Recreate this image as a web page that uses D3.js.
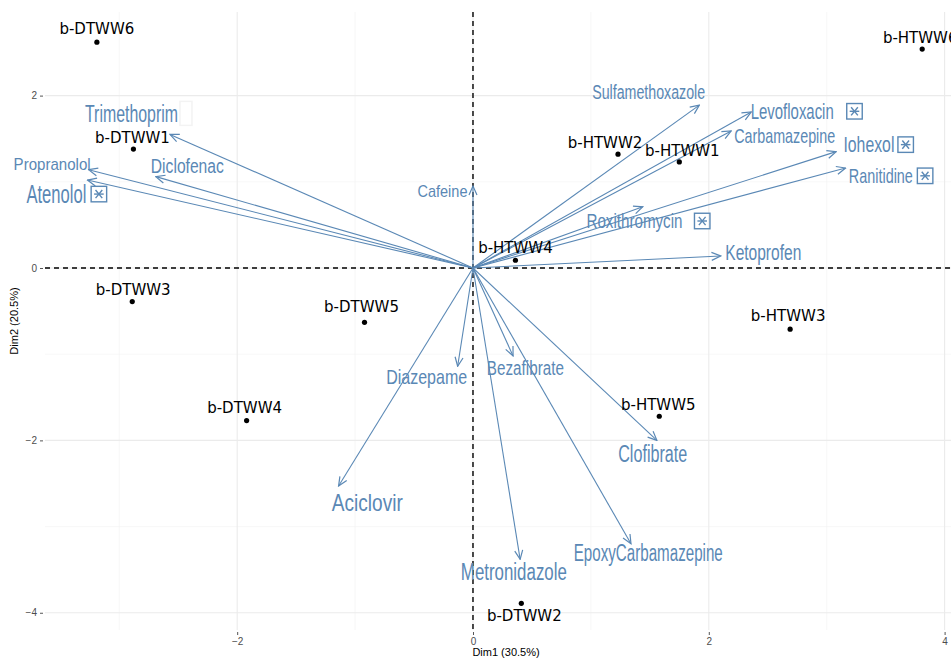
<!DOCTYPE html>
<html>
<head>
<meta charset="utf-8">
<script src="https://cdn.jsdelivr.net/npm/d3@7"></script>
<style>
	body { margin: 0; background: #fff; }
	svg { display: block; }
</style>
</head>
<body>
<svg id="biplot" width="951" height="659"></svg>
<script>
// individuals (Dim1, Dim2)
const indNames = ['b-DTWW6', 'b-HTWW6', 'b-DTWW1', 'b-HTWW2', 'b-HTWW1', 'b-HTWW4',
	'b-DTWW3', 'b-DTWW5', 'b-HTWW3', 'b-DTWW4', 'b-HTWW5', 'b-DTWW2'];
const indDim1 = [-3.19, 3.81, -2.88, 1.23, 1.75, 0.36, -2.89, -0.92, 2.69, -1.92, 1.58, 0.41];
const indDim2 = [2.62, 2.54, 1.38, 1.32, 1.23, 0.09, -0.39, -0.63, -0.71, -1.77, -1.72, -3.89];

// variables (arrow tips)
const varNames = ['Trimethoprim', 'Propranolol', 'Atenolol', 'Diclofenac', 'Cafeine',
	'Sulfamethoxazole', 'Levofloxacin', 'Carbamazepine', 'Iohexol', 'Ranitidine',
	'Roxithromycin', 'Ketoprofen', 'Diazepame', 'Bezafibrate', 'Clofibrate',
	'Aciclovir', 'EpoxyCarbamazepine', 'Metronidazole'];
const varDim1 = [-2.57, -3.26, -3.27, -2.69, 0.0, 1.92, 2.36, 2.19, 3.08, 3.16,
	1.44, 2.10, -0.13, 0.34, 1.56, -1.14, 1.34, 0.40];
const varDim2 = [1.55, 1.14, 1.02, 1.06, 0.95, 1.89, 1.81, 1.59, 1.35, 1.16,
	0.71, 0.14, -1.14, -1.02, -2.00, -2.53, -3.20, -3.38];

const flagged = ['Atenolol', 'Levofloxacin', 'Iohexol', 'Ranitidine', 'Roxithromycin'];

const xTicks = [-2, 0, 2, 4];
const yTicks = [-4, -2, 0, 2];
const xTitle = 'Dim1 (30.5%)';
const yTitle = 'Dim2 (20.5%)';

// label layout: pixel nudge from the mark; for variables also font size and drawn width
const indNudge = {
	'b-DTWW6': [0, -13], 'b-HTWW6': [-2, -11], 'b-DTWW1': [-1, -11], 'b-HTWW2': [-13, -11],
	'b-HTWW1': [3, -11], 'b-HTWW4': [0, -12], 'b-DTWW3': [1, -12], 'b-DTWW5': [-3, -15],
	'b-HTWW3': [-2, -13], 'b-DTWW4': [-2, -13], 'b-HTWW5': [-1, -11], 'b-DTWW2': [3, 13]
};
const varLayout = {
	Trimethoprim: [-38.5, -21, 23, 93], Propranolol: [-36.5, -5.5, 17, 77],
	Atenolol: [-31, 14, 25, 60], Diclofenac: [31.5, -11, 19.5, 73],
	Cafeine: [-30.5, 5, 17, 50], Sulfamethoxazole: [-50.7, -12.8, 20, 113],
	Levofloxacin: [41, -0.7, 22, 83], Carbamazepine: [53.5, 4.8, 21, 101],
	Iohexol: [32.8, -7, 21.5, 51], Ranitidine: [35.3, 7.8, 21, 64],
	Roxithromycin: [-8.3, 14.2, 20, 96], Ketoprofen: [42.7, -3.5, 22, 76],
	Diazepame: [-31, 9.8, 21, 81], Bezafibrate: [12.3, 11.8, 20, 77],
	Clofibrate: [-4.2, 13.3, 23, 69], Aciclovir: [28.7, 16, 24, 71],
	EpoxyCarbamazepine: [17.3, 9.3, 23, 149], Metronidazole: [-6.3, 12.7, 23, 106]
};
const boxGap = {Atenolol: 4.7, Levofloxacin: 13, Iohexol: 3.5, Ranitidine: 4.5, Roxithromycin: 12};

const width = 951;
const height = 659;
const blue = '#5a88b5';
const sans = '"Liberation Sans", Arial, sans-serif';

const x = d3.scaleLinear().domain([-3.63, 4.19]).range([45, 967]);
const y = d3.scaleLinear().domain([-4.2, 2.97]).range([630, 12]);

const svg = d3.select('#biplot');

svg.append('defs').append('marker')
	.attr('id', 'head')
	.attr('markerUnits', 'userSpaceOnUse')
	.attr('viewBox', '-10 -5 11 10')
	.attr('refX', 0).attr('refY', 0)
	.attr('markerWidth', 11).attr('markerHeight', 10)
	.attr('orient', 'auto')
	.append('path')
	.attr('d', 'M-9,-4L0,0L-9,4')
	.attr('fill', 'none')
	.attr('stroke', blue)
	.attr('stroke-width', 1.2);

// grid
const grid = svg.append('g');
const [x0, x1] = x.range();
const [y0, y1] = y.range();
const minorX = [-3, -1, 1, 3];
const minorY = [-3, -1, 1];
grid.selectAll('.mx').data(minorX).enter().append('line')
	.attr('x1', d => x(d)).attr('x2', d => x(d)).attr('y1', y1).attr('y2', y0)
	.attr('stroke', '#f2f2f2').attr('stroke-width', 0.6);
grid.selectAll('.my').data(minorY).enter().append('line')
	.attr('y1', d => y(d)).attr('y2', d => y(d)).attr('x1', x0).attr('x2', x1)
	.attr('stroke', '#f2f2f2').attr('stroke-width', 0.6);
grid.selectAll('.gx').data(xTicks).enter().append('line')
	.attr('x1', d => x(d)).attr('x2', d => x(d)).attr('y1', y1).attr('y2', y0)
	.attr('stroke', '#ebebeb').attr('stroke-width', 1.1);
grid.selectAll('.gy').data(yTicks).enter().append('line')
	.attr('y1', d => y(d)).attr('y2', d => y(d)).attr('x1', x0).attr('x2', x1)
	.attr('stroke', '#ebebeb').attr('stroke-width', 1.1);

// axes
const fmt = d => d < 0 ? '\u2212' + Math.abs(d) : d;
const xAxis = svg.append('g')
	.attr('transform', `translate(0,${y0 + 2})`)
	.call(d3.axisBottom(x).tickValues(xTicks).tickSize(3).tickFormat(fmt));
const yAxis = svg.append('g')
	.attr('transform', `translate(${x0 - 2},0)`)
	.call(d3.axisLeft(y).tickValues(yTicks).tickSize(3).tickFormat(fmt));
[xAxis, yAxis].forEach(a => {
	a.select('.domain').remove();
	a.selectAll('.tick line').attr('stroke', '#555');
	a.selectAll('.tick text').attr('fill', '#4d4d4d')
		.style('font-family', sans).style('font-size', '10px');
});

svg.append('text')
	.attr('x', (x0 + x1) / 2).attr('y', 656)
	.attr('text-anchor', 'middle')
	.style('font-family', sans).style('font-size', '11px')
	.text(xTitle);
svg.append('text')
	.attr('transform', `translate(18,${(y0 + y1) / 2}) rotate(-90)`)
	.attr('text-anchor', 'middle')
	.style('font-family', sans).style('font-size', '11px')
	.text(yTitle);

// reference lines
svg.append('line')
	.attr('x1', x0).attr('x2', x1).attr('y1', y(0)).attr('y2', y(0))
	.attr('stroke', '#000').attr('stroke-width', 1.4).attr('stroke-dasharray', '5,4');
svg.append('line')
	.attr('x1', x(0)).attr('x2', x(0)).attr('y1', y1).attr('y2', y0)
	.attr('stroke', '#000').attr('stroke-width', 1.4).attr('stroke-dasharray', '5,4');

// variables
const vars = varNames.map((name, i) => ({name, d1: varDim1[i], d2: varDim2[i]}));

svg.append('g').selectAll('line').data(vars).enter().append('line')
	.attr('x1', x(0)).attr('y1', y(0))
	.attr('x2', d => x(d.d1)).attr('y2', d => y(d.d2))
	.attr('stroke', blue).attr('stroke-width', 1.1)
	.attr('marker-end', 'url(#head)');

const labCx = d => x(d.d1) + varLayout[d.name][0];
const labCy = d => y(d.d2) + varLayout[d.name][1];

svg.append('g').selectAll('text').data(vars).enter().append('text')
	.attr('x', d => labCx(d) - varLayout[d.name][3] / 2)
	.attr('y', d => labCy(d) + 0.358 * varLayout[d.name][2])
	.attr('textLength', d => varLayout[d.name][3])
	.attr('lengthAdjust', 'spacingAndGlyphs')
	.attr('fill', blue)
	.style('font-family', sans)
	.style('font-size', d => varLayout[d.name][2] + 'px')
	.text(d => d.name);

// flag boxes after some labels
const s = 15.5;
const boxes = svg.append('g').selectAll('g').data(vars.filter(d => flagged.includes(d.name))).enter().append('g')
	.attr('transform', d => `translate(${labCx(d) + varLayout[d.name][3] / 2 + boxGap[d.name]},${labCy(d) - s / 2})`)
	.attr('stroke', blue).attr('fill', 'none').attr('stroke-width', 1.4);
boxes.append('rect').attr('width', s).attr('height', s);
const r = 4.8;
boxes.append('line').attr('x1', s / 2 - r).attr('x2', s / 2 + r).attr('y1', s / 2).attr('y2', s / 2);
boxes.append('line').attr('x1', s / 2 - r * 0.7).attr('x2', s / 2 + r * 0.7).attr('y1', s / 2 - r * 0.85).attr('y2', s / 2 + r * 0.85);
boxes.append('line').attr('x1', s / 2 - r * 0.7).attr('x2', s / 2 + r * 0.7).attr('y1', s / 2 + r * 0.85).attr('y2', s / 2 - r * 0.85);

// faint ghost box next to Trimethoprim
const trim = vars.find(d => d.name === 'Trimethoprim');
svg.append('rect')
	.attr('x', labCx(trim) + varLayout.Trimethoprim[3] / 2 + 2)
	.attr('y', labCy(trim) - 12)
	.attr('width', 12).attr('height', 24)
	.attr('fill', 'none').attr('stroke', '#f3f3f3').attr('stroke-width', 1.5);

// individuals
const inds = indNames.map((name, i) => ({name, d1: indDim1[i], d2: indDim2[i]}));

svg.append('g').selectAll('circle').data(inds).enter().append('circle')
	.attr('cx', d => x(d.d1)).attr('cy', d => y(d.d2))
	.attr('r', 2.6).attr('fill', '#000');

svg.append('g').selectAll('text').data(inds).enter().append('text')
	.attr('x', d => x(d.d1) + indNudge[d.name][0])
	.attr('y', d => y(d.d2) + indNudge[d.name][1])
	.attr('text-anchor', 'middle')
	.attr('dominant-baseline', 'central')
	.attr('fill', '#000')
	.style('font-family', '"DejaVu Sans", Verdana, sans-serif')
	.style('font-size', '15px')
	.text(d => d.name);
</script>
</body>
</html>
